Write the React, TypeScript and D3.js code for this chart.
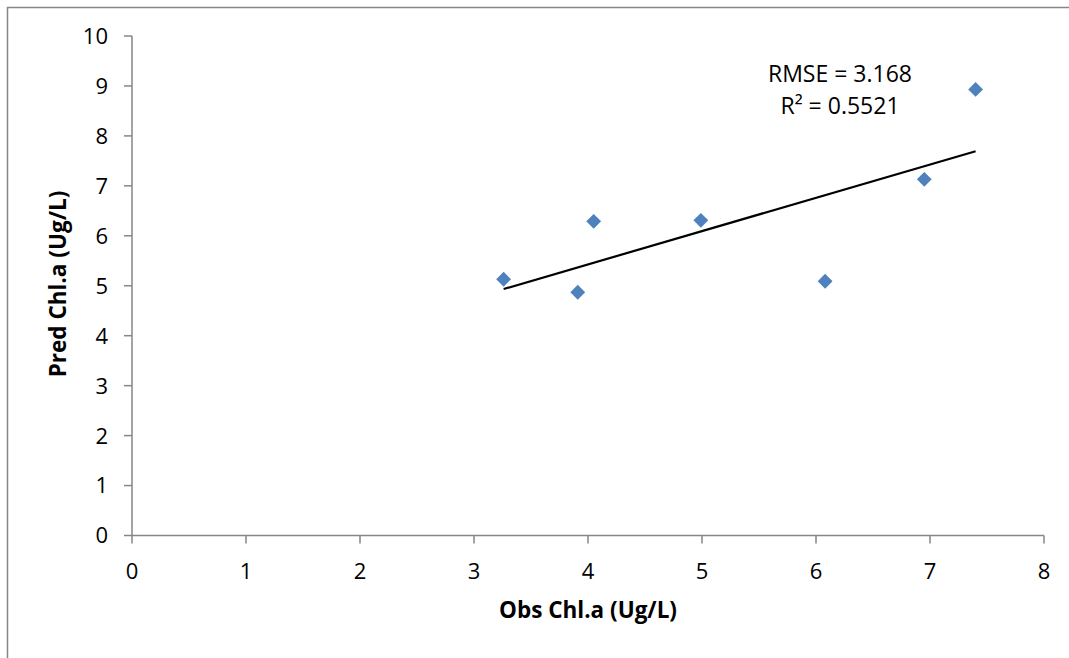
import React from "react";
import * as d3 from "d3";

const obsValues = [3.26, 3.91, 4.05, 4.99, 6.08, 6.95, 7.40];
const predValues = [5.13, 4.87, 6.29, 6.31, 5.09, 7.13, 8.93];
const xTicks = [0, 1, 2, 3, 4, 5, 6, 7, 8];
const yTicks = [0, 1, 2, 3, 4, 5, 6, 7, 8, 9, 10];
const annotationLines = ["RMSE = 3.168", "R\u00B2 = 0.5521"];
const xTitle = "Obs Chl.a (Ug/L)";
const yTitle = "Pred Chl.a (Ug/L)";

const W = 1069;
const H = 658;
const FONT = "'Open Sans', 'Noto Sans', sans-serif";

export default function App() {
  const x = d3.scaleLinear().domain([0, 8]).range([132, 1044]);
  const y = d3.scaleLinear().domain([0, 10]).range([535.5, 36]);

  const n = obsValues.length;
  const mx = d3.mean(obsValues) as number;
  const my = d3.mean(predValues) as number;
  let sxy = 0, sxx = 0;
  for (let i = 0; i < n; i++) {
    sxy += (obsValues[i] - mx) * (predValues[i] - my);
    sxx += (obsValues[i] - mx) ** 2;
  }
  const slope = sxy / sxx;
  const intercept = my - slope * mx;
  const x0 = d3.min(obsValues) as number;
  const x1 = d3.max(obsValues) as number;
  const line = d3.line<number>().x((v) => x(v)).y((v) => y(slope * v + intercept));

  const diamond = d3.symbol().type(d3.symbolDiamond2).size(140)();

  return (
    <svg width={W} height={H} style={{ position: "absolute", left: 0, top: 0, display: "block" }}>
      <rect x={0} y={0} width={W} height={H} fill="#fff" />
      <rect x={7.5} y={7.5} width={W + 20} height={H + 20} fill="none" stroke="#868686" strokeWidth={1.5} />
      {/* axes */}
      <line x1={x(0)} x2={x(0)} y1={y(10)} y2={y(0)} stroke="#868686" strokeWidth={1.5} />
      <line x1={x(0)} x2={x(8)} y1={y(0)} y2={y(0)} stroke="#868686" strokeWidth={1.5} />
      {yTicks.map((t) => (
        <g key={"y" + t}>
          <line x1={x(0) - 8} x2={x(0)} y1={y(t)} y2={y(t)} stroke="#868686" strokeWidth={1.5} />
          <text x={108} y={y(t)} dy="0.36em" textAnchor="end" fontFamily={FONT} fontSize={22} fill="#000">
            {t}
          </text>
        </g>
      ))}
      {xTicks.map((t) => (
        <g key={"x" + t}>
          <line x1={x(t)} x2={x(t)} y1={y(0)} y2={y(0) + 8} stroke="#868686" strokeWidth={1.5} />
          <text x={x(t)} y={579} textAnchor="middle" fontFamily={FONT} fontSize={22} fill="#000">
            {t}
          </text>
        </g>
      ))}
      {/* trendline */}
      <path d={line([x0, x1]) || ""} stroke="#000" strokeWidth={2.2} fill="none" />
      {/* points */}
      {obsValues.map((v, i) => (
        <path key={i} d={diamond || ""} transform={`translate(${x(v)},${y(predValues[i])})`} fill="#4F81BD" />
      ))}
      {/* annotation */}
      {annotationLines.map((s, i) => (
        <text key={s} x={840} y={82 + i * 32} textAnchor="middle" fontFamily={FONT} fontSize={23} fill="#000">
          {s}
        </text>
      ))}
      {/* titles */}
      <text x={588} y={618} textAnchor="middle" fontFamily={FONT} fontSize={22.5} fontWeight="bold" fill="#000">
        {xTitle}
      </text>
      <text
        transform={`translate(66,284) rotate(-90)`}
        textAnchor="middle"
        fontFamily={FONT}
        fontSize={22.5}
        fontWeight="bold"
        fill="#000"
      >
        {yTitle}
      </text>
    </svg>
  );
}
